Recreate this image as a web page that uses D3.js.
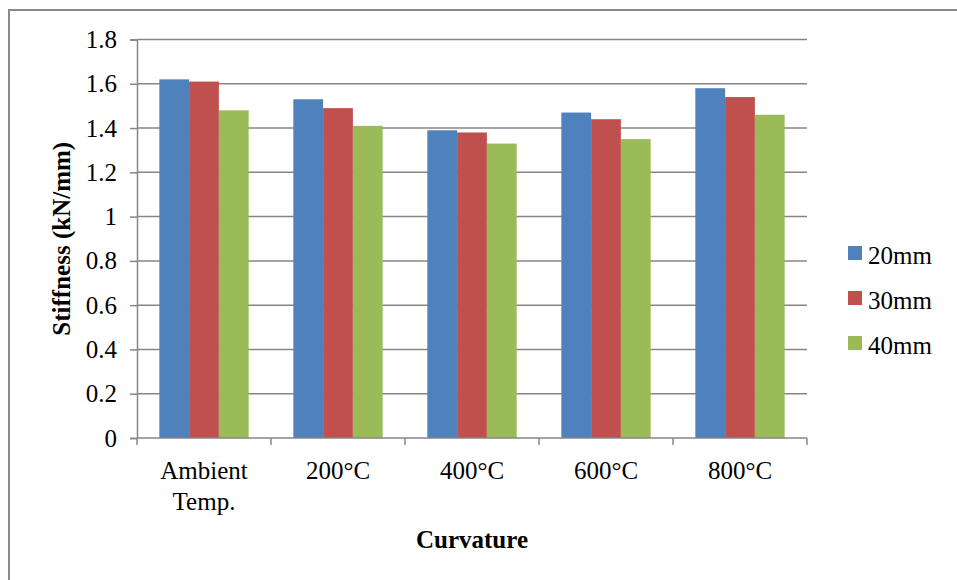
<!DOCTYPE html>
<html>
<head>
<meta charset="utf-8">
<script src="https://cdn.jsdelivr.net/npm/d3@7"></script>
<style>
  body { margin: 0; background: #fff; }
  svg text { font-family: "Liberation Serif", "Times New Roman", serif !important; fill: #000; }
</style>
</head>
<body>
<div id="chart"></div>
<script>
var categories = ["Ambient Temp.", "200°C", "400°C", "600°C", "800°C"];
var seriesNames = ["20mm", "30mm", "40mm"];
var s20 = [1.62, 1.53, 1.39, 1.47, 1.58];
var s30 = [1.61, 1.49, 1.38, 1.44, 1.54];
var s40 = [1.48, 1.41, 1.33, 1.35, 1.46];
var yTicks = [0, 0.2, 0.4, 0.6, 0.8, 1, 1.2, 1.4, 1.6, 1.8];
var colors = ["#4F81BD", "#C0504D", "#9BBB59"];

var series = [s20, s30, s40];
var serif = "'Liberation Serif', 'Times New Roman', serif";

var width = 957, height = 580;
var margin = {left: 137, right: 150, top: 39.5, bottom: 142};

var svg = d3.select("#chart").append("svg")
  .attr("width", width)
  .attr("height", height)
  .style("font-family", serif);

// outer chart border (runs off the right and bottom edges)
svg.append("rect")
  .attr("x", 9).attr("y", 10)
  .attr("width", 1000).attr("height", 1000)
  .attr("fill", "none")
  .attr("stroke", "#8a8a8a")
  .attr("stroke-width", 2);

var x0 = d3.scaleBand()
  .domain(categories)
  .range([margin.left, width - margin.right])
  .paddingInner(0)
  .paddingOuter(0);

// Excel gap width 150%: bars take 3/(3+1.5) of the band
var groupW = x0.bandwidth() * 3 / 4.5;
var x1 = d3.scaleBand()
  .domain(d3.range(series.length))
  .range([0, groupW]);

var y = d3.scaleLinear()
  .domain([0, 1.8])
  .range([height - margin.bottom, margin.top]);

var g = svg.append("g");

// gridlines
g.append("g")
  .selectAll("line")
  .data(yTicks.filter(function(d) { return d > 0; }))
  .enter().append("line")
  .attr("x1", margin.left)
  .attr("x2", width - margin.right)
  .attr("y1", function(d) { return y(d); })
  .attr("y2", function(d) { return y(d); })
  .attr("stroke", "#868686")
  .attr("stroke-width", 1.5);

// bars
var groups = g.append("g")
  .selectAll("g")
  .data(categories)
  .enter().append("g")
  .attr("transform", function(d) {
    return "translate(" + (x0(d) + (x0.bandwidth() - groupW) / 2) + ",0)";
  });

groups.selectAll("rect")
  .data(function(d, i) { return series.map(function(s, k) { return {k: k, v: s[i]}; }); })
  .enter().append("rect")
  .attr("x", function(d) { return x1(d.k); })
  .attr("width", x1.bandwidth())
  .attr("y", function(d) { return y(d.v); })
  .attr("height", function(d) { return y(0) - y(d.v); })
  .attr("fill", function(d) { return colors[d.k]; });

// y axis
var yAxis = g.append("g")
  .attr("transform", "translate(" + margin.left + ",0)")
  .call(d3.axisLeft(y).tickValues(yTicks).tickSize(7).tickPadding(13)
    .tickFormat(function(d) { return String(d); }));
yAxis.attr("font-family", null).attr("font-size", null);
yAxis.select(".domain").attr("stroke", "#868686").attr("stroke-width", 1.5);
yAxis.selectAll(".tick line").attr("stroke", "#868686").attr("stroke-width", 1.5);
yAxis.selectAll(".tick text")
  .style("font-size", "25px")
  .style("font-family", serif)
  .attr("fill", "#000");

// x axis
var xAxisG = g.append("g")
  .attr("transform", "translate(0," + y(0) + ")");
xAxisG.append("line")
  .attr("x1", margin.left).attr("x2", width - margin.right)
  .attr("stroke", "#868686").attr("stroke-width", 1.5);
var bounds = categories.map(function(c) { return x0(c); }).concat([width - margin.right]);
xAxisG.selectAll(".xt")
  .data(bounds)
  .enter().append("line")
  .attr("x1", function(d) { return d; })
  .attr("x2", function(d) { return d; })
  .attr("y1", 0).attr("y2", 7)
  .attr("stroke", "#868686").attr("stroke-width", 1.5);

var xl = xAxisG.selectAll(".xl")
  .data(categories)
  .enter().append("text")
  .attr("text-anchor", "middle")
  .style("font-size", "25px")
  .attr("y", 41);
xl.each(function(d) {
  var t = d3.select(this);
  var parts = d.split(" ");
  parts.forEach(function(p, i) {
    t.append("tspan")
      .attr("x", x0(d) + x0.bandwidth() / 2)
      .attr("dy", i == 0 ? 0 : 31)
      .text(p);
  });
});

// axis titles
svg.append("text")
  .attr("x", (margin.left + width - margin.right) / 2)
  .attr("y", 548)
  .attr("text-anchor", "middle")
  .style("font-size", "25px")
  .style("font-weight", "bold")
  .text("Curvature");

svg.append("text")
  .attr("transform", "translate(70," + (y(0) + y(1.8)) / 2 + ") rotate(-90)")
  .attr("text-anchor", "middle")
  .style("font-size", "25px")
  .style("font-weight", "bold")
  .text("Stiffness (kN/mm)");

// legend
var legend = svg.append("g")
  .attr("transform", "translate(848,246)");
var li = legend.selectAll("g")
  .data(seriesNames)
  .enter().append("g")
  .attr("transform", function(d, i) { return "translate(0," + i * 45 + ")"; });
li.append("rect")
  .attr("width", 14).attr("height", 14)
  .attr("fill", function(d, i) { return colors[i]; });
li.append("text")
  .attr("x", 20).attr("y", 18)
  .style("font-size", "25px")
  .text(function(d) { return d; });
</script>
</body>
</html>
